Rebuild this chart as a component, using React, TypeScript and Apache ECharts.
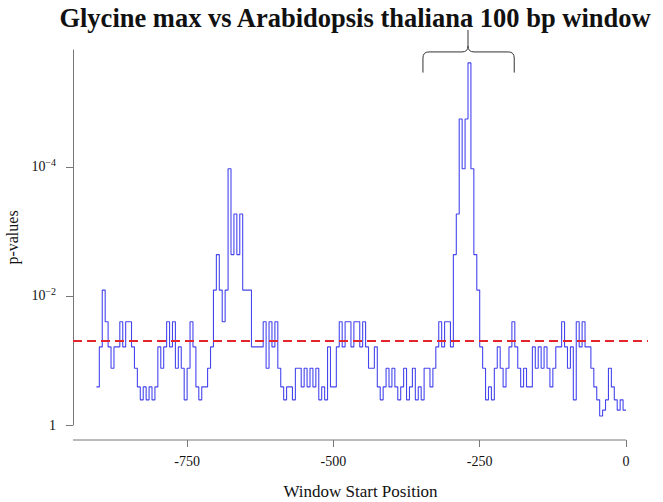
import React, { useEffect, useRef } from 'react';
import * as echarts from 'echarts';

// Window start positions (bp, relative to the reference point)
const windowStart = [
  -905, -900, -895, -890, -885, -880, -875, -870, -865, -860,
  -855, -850, -845, -840, -835, -830, -825, -820, -815, -810,
  -805, -800, -795, -790, -785, -780, -775, -770, -765, -760,
  -755, -750, -745, -740, -735, -730, -725, -720, -715, -710,
  -705, -700, -695, -690, -685, -680, -675, -670, -665, -660,
  -655, -650, -645, -640, -635, -630, -625, -620, -615, -610,
  -605, -600, -595, -590, -585, -580, -575, -570, -565, -560,
  -555, -550, -545, -540, -535, -530, -525, -520, -515, -510,
  -505, -500, -495, -490, -485, -480, -475, -470, -465, -460,
  -455, -450, -445, -440, -435, -430, -425, -420, -415, -410,
  -405, -400, -395, -390, -385, -380, -375, -370, -365, -360,
  -355, -350, -345, -340, -335, -330, -325, -320, -315, -310,
  -305, -300, -295, -290, -285, -280, -275, -270, -265, -260,
  -255, -250, -245, -240, -235, -230, -225, -220, -215, -210,
  -205, -200, -195, -190, -185, -180, -175, -170, -165, -160,
  -155, -150, -145, -140, -135, -130, -125, -120, -115, -110,
  -105, -100, -95, -90, -85, -80, -75, -70, -65, -60,
  -55, -50, -45, -40, -35, -30, -25, -20, -15, -10,
  -5, 0,
];

// -log10(p-value) for each window
const negLog10P = [
  0.59, 1.21, 2.09, 1.6, 1.21, 0.88, 1.21, 1.21, 1.6, 1.21,
  1.6, 1.6, 1.21, 0.88, 0.59, 0.39, 0.59, 0.39, 0.59, 0.39,
  0.59, 1.21, 0.88, 1.21, 1.6, 1.21, 1.6, 0.88, 1.21, 0.88,
  0.39, 0.88, 1.6, 1.21, 0.59, 0.39, 0.59, 0.59, 0.88, 1.21,
  2.09, 2.64, 2.09, 1.6, 2.09, 3.97, 2.64, 3.27, 2.64, 3.27,
  2.09, 2.09, 2.09, 1.21, 1.21, 1.21, 1.21, 1.6, 0.88, 1.6,
  1.21, 1.6, 0.88, 0.59, 0.39, 0.59, 0.59, 0.39, 0.88, 0.88,
  0.59, 0.88, 0.59, 0.88, 0.59, 0.88, 0.39, 0.59, 0.39, 1.21,
  0.59, 0.59, 1.21, 1.6, 1.21, 1.6, 1.6, 1.21, 1.6, 1.6,
  1.21, 1.6, 1.21, 0.88, 0.88, 1.21, 0.59, 0.39, 0.59, 0.88,
  0.59, 0.88, 0.59, 0.39, 0.59, 0.88, 0.39, 0.59, 0.88, 0.39,
  0.59, 0.39, 0.88, 0.88, 0.59, 0.88, 1.21, 1.6, 1.21, 1.6,
  1.6, 1.21, 2.64, 3.27, 4.74, 3.97, 4.74, 5.61, 3.97, 2.64,
  2.09, 1.21, 0.88, 0.39, 0.59, 0.39, 0.88, 1.21, 0.88, 0.59,
  0.88, 1.21, 1.6, 1.21, 0.88, 0.59, 0.88, 0.59, 0.59, 1.21,
  0.88, 1.21, 0.88, 1.21, 0.88, 0.59, 0.88, 1.21, 1.21, 1.6,
  1.21, 0.88, 1.21, 0.39, 1.6, 1.21, 1.6, 1.21, 1.21, 0.88,
  0.59, 0.39, 0.14, 0.23, 0.39, 0.88, 0.59, 0.39, 0.23, 0.39,
  0.23, 0.23,
];

const xTicks = [-750, -500, -250, 0];
const yTicks = [0, 2, 4]; // -log10(p): 1, 10^-2, 10^-4
const threshold = 1.301; // p = 0.05
const xRange = [-945, 37.6];
const yRange = [0, 5.81];
const bracketRange = [-347, -191];
const bracketCenter = -270;
const bracketLevels = { base: 5.46, top: 5.78, tip: 6.12 };

const TITLE = 'Glycine max vs Arabidopsis thaliana 100 bp window';
const FONT = '"Liberation Serif", "Times New Roman", serif';
const AXIS_COLOR = '#777';

export default function App() {
  const ref = useRef<HTMLDivElement>(null);

  useEffect(() => {
    const el = ref.current;
    if (!el) return;

    echarts.graphic.registerShape(
      'brace',
      echarts.graphic.extendShape({
        shape: { x1: 0, x2: 0, xc: 0, yb: 0, yt: 0, ytip: 0, r: 6 },
        buildPath(ctx: any, s: any) {
          const r = s.r;
          ctx.moveTo(s.x1, s.yb);
          ctx.lineTo(s.x1, s.yt + r);
          ctx.quadraticCurveTo(s.x1, s.yt, s.x1 + r, s.yt);
          ctx.lineTo(s.xc - r, s.yt);
          ctx.quadraticCurveTo(s.xc, s.yt, s.xc, s.yt - r);
          ctx.lineTo(s.xc, s.ytip);
          ctx.moveTo(s.xc, s.yt - r);
          ctx.quadraticCurveTo(s.xc, s.yt, s.xc + r, s.yt);
          ctx.lineTo(s.x2 - r, s.yt);
          ctx.quadraticCurveTo(s.x2, s.yt, s.x2, s.yt + r);
          ctx.lineTo(s.x2, s.yb);
        },
      }) as any
    );

    const chart = echarts.init(el, null, { renderer: 'svg' });
    const data = windowStart.map((x, i) => [x, negLog10P[i]]);

    chart.setOption({
      animation: false,
      grid: {
        left: 73,
        right: 15,
        top: 50,
        bottom: 77,
        containLabel: false,
        outerBoundsMode: 'none',
      },
      xAxis: {
        type: 'value',
        min: xRange[0],
        max: xRange[1],
        offset: 15,
        name: 'Window Start Position',
        nameLocation: 'middle',
        nameGap: 43,
        nameTextStyle: { fontFamily: FONT, fontSize: 17, color: '#111' },
        axisLine: { show: false, onZero: false },
        axisTick: {
          show: true,
          length: 7,
          customValues: xTicks,
          lineStyle: { color: AXIS_COLOR },
        },
        axisLabel: {
          customValues: xTicks,
          margin: 14,
          fontFamily: FONT,
          fontSize: 14,
          color: '#111',
        },
        splitLine: { show: false },
      },
      yAxis: {
        type: 'value',
        min: yRange[0],
        max: yRange[1],
        name: 'p-values',
        nameLocation: 'middle',
        nameRotate: 90,
        nameGap: 46,
        nameTextStyle: { fontFamily: FONT, fontSize: 16, color: '#111' },
        axisLine: { show: true, onZero: false, lineStyle: { color: AXIS_COLOR } },
        axisTick: {
          show: true,
          length: 7,
          customValues: yTicks,
          lineStyle: { color: AXIS_COLOR },
        },
        axisLabel: {
          customValues: yTicks,
          margin: 17,
          fontFamily: FONT,
          fontSize: 14,
          color: '#111',
          formatter: (v: number) => (v === 0 ? '{b|1}' : `{b|10}{s|−${v}}`),
          rich: {
            b: { fontFamily: FONT, fontSize: 14, color: '#111', lineHeight: 18 },
            s: {
              fontFamily: FONT,
              fontSize: 10,
              color: '#111',
              lineHeight: 18,
              padding: [0, 0, 9, 0],
            },
          },
        },
        splitLine: { show: false },
      },
      series: [
        {
          type: 'line',
          step: 'end',
          symbol: 'none',
          data,
          lineStyle: { color: '#4545ee', width: 1.1 },
          markLine: {
            silent: true,
            symbol: ['none', 'none'],
            label: { show: false },
            lineStyle: { color: '#e3262b', type: [9, 5], width: 2 },
            data: [{ yAxis: threshold }],
          },
        },
      ],
    });

    const px = (v: number) => chart.convertToPixel({ xAxisIndex: 0 }, v) as number;
    const py = (v: number) => chart.convertToPixel({ yAxisIndex: 0 }, v) as number;
    const axisY = py(yRange[0]) + 15;

    chart.setOption({
      graphic: [
        {
          type: 'text',
          x: 355,
          y: 4,
          silent: true,
          style: {
            text: TITLE,
            font: `bold 26.5px ${FONT}`,
            fill: '#111',
            align: 'center',
            verticalAlign: 'top',
            textAlign: 'center',
            textVerticalAlign: 'top',
          },
        },
        {
          type: 'line',
          silent: true,
          shape: { x1: px(xRange[0]), y1: axisY, x2: px(0), y2: axisY },
          style: { stroke: AXIS_COLOR, lineWidth: 1 },
        },
        {
          type: 'brace',
          silent: true,
          shape: {
            x1: px(bracketRange[0]),
            x2: px(bracketRange[1]),
            xc: px(bracketCenter),
            yb: py(bracketLevels.base),
            yt: py(bracketLevels.top),
            ytip: py(bracketLevels.tip),
            r: 6,
          },
          style: { stroke: '#333', fill: 'none', lineWidth: 1 },
        },
      ],
    });

    return () => {
      chart.dispose();
    };
  }, []);

  return (
    <div
      ref={ref}
      style={{ position: 'absolute', left: 0, top: 0, width: 663, height: 502 }}
    />
  );
}
